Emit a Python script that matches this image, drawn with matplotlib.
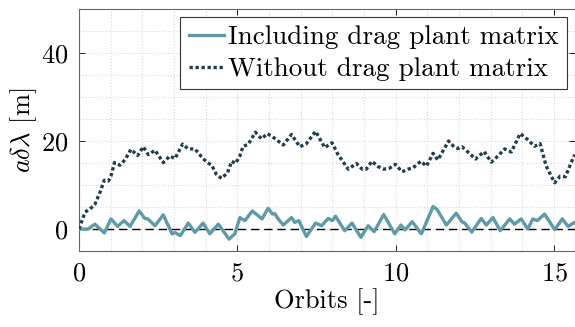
import numpy as np
import matplotlib
matplotlib.use('Agg')
import matplotlib.pyplot as plt
from matplotlib.ticker import MultipleLocator

plt.rcParams['font.family'] = 'serif'
plt.rcParams['font.serif'] = ['cmr10']
plt.rcParams['mathtext.fontset'] = 'cm'
plt.rcParams['axes.formatter.use_mathtext'] = True
plt.rcParams['axes.unicode_minus'] = False

# including drag plant matrix (orbit, value)
orb_inc = [0.0, 0.29, 0.5, 0.8, 1.01, 1.22, 1.42, 1.61, 1.9, 2.08, 2.17, 2.4, 2.66, 2.94, 3.03,
           3.2, 3.45, 3.66, 3.92, 4.13, 4.4, 4.74, 4.92, 5.08, 5.24, 5.47, 5.78, 5.97, 6.11,
           6.18, 6.29, 6.45, 6.71, 6.81, 6.94, 7.18, 7.47, 7.66, 7.87, 8.0, 8.1, 8.39, 8.62,
           8.9, 9.13, 9.32, 9.62, 9.97, 10.16, 10.3, 10.52, 10.81, 11.18, 11.3, 11.6, 11.91,
           12.09, 12.18, 12.4, 12.7, 12.86, 13.07, 13.3, 13.6, 13.75, 13.96, 14.17, 14.33,
           14.47, 14.7, 15.02, 15.26, 15.44, 15.65]
val_inc = [0.0, 0.0, 1.1, -0.9, 2.3, 0.6, 1.9, 0.6, 4.1, 2.4, 2.3, 0.75, 3.2, -1.1, -0.8,
           -1.5, 1.35, -0.75, 1.35, -1.1, 1.1, -2.3, -1.1, 2.6, 1.9, 4.1, 2.3, 4.7, 3.4,
           3.5, 2.3, 0.9, 2.6, 1.5, 1.9, -1.7, 1.35, 0.75, 2.4, 1.9, 2.9, -0.4, 1.35,
           -1.9, 0.75, -0.6, 3.3, -1.1, 0.9, -0.2, 1.65, -1.1, 5.1, 4.5, 0.9, 3.6,
           1.65, 1.35, -0.7, 2.4, 0.9, 2.6, -0.4, 2.3, 1.1, 2.3, 0.0, 2.3,
           1.9, 3.4, -0.15, 2.3, 0.6, 1.5]

# without drag plant matrix
orb_wo = [0.0, 0.19, 0.4, 0.5, 0.66, 0.8, 0.93, 1.01, 1.12, 1.29, 1.45, 1.64, 1.85, 2.03,
          2.19, 2.4, 2.66, 2.87, 3.03, 3.27, 3.45, 3.66, 3.87, 4.03, 4.19, 4.34, 4.5, 4.69,
          4.82, 4.94, 5.08, 5.18, 5.34, 5.57, 5.76, 5.95, 6.16, 6.45, 6.71, 6.97, 7.18,
          7.47, 7.76, 7.99, 8.18, 8.5, 8.76, 8.94, 9.07, 9.25, 9.44, 9.62, 9.8, 9.99,
          10.2, 10.39, 10.55, 10.79, 10.97, 11.18, 11.33, 11.67, 11.84, 11.97, 12.09,
          12.28, 12.52, 12.79, 13.02, 13.23, 13.44, 13.65, 13.93, 14.17, 14.38, 14.56,
          14.75, 15.02, 15.19, 15.36, 15.54, 15.65]
val_wo = [0.0, 3.8, 4.9, 5.6, 8.3, 11.1, 10.9, 12.1, 15.1, 14.5, 15.7, 18.1, 16.7, 18.7,
          16.9, 17.9, 15.1, 16.6, 16.0, 19.3, 18.2, 18.2, 16.4, 15.2, 14.5, 12.4, 11.5, 12.8,
          15.4, 14.9, 16.6, 18.8, 19.2, 22.0, 20.5, 21.7, 20.7, 19.1, 21.5, 18.7, 19.4,
          22.2, 18.5, 19.6, 16.9, 13.6, 14.9, 13.6, 13.6, 15.4, 14.2, 13.6, 13.8, 14.7,
          13.0, 13.6, 13.9, 15.4, 14.3, 17.2, 15.7, 20.0, 18.7, 18.3, 18.7,
          17.5, 15.9, 17.6, 15.2, 16.6, 18.2, 17.5, 21.7, 20.3, 18.8, 19.4,
          14.3, 10.5, 12.0, 11.9, 15.1, 16.9]

fig = plt.figure(figsize=(5.75, 3.27), dpi=100)
ax = fig.add_axes([0.1374, 0.2324, 0.862, 0.740])

ax.axhline(0, color='k', lw=1.0, ls=(0, (6, 3.5)), zorder=2)
ax.plot(orb_inc, val_inc, color='#5f9aa7', lw=2.4, label='Including drag plant matrix', zorder=3)
ax.plot(orb_wo, val_wo, color='#213f4a', lw=2.4, ls=(0, (1, 0.8)), label='Without drag plant matrix', zorder=3)

ax.set_xlim(0, 15.65)
ax.set_ylim(-5, 50)
ax.xaxis.set_major_locator(MultipleLocator(5))
ax.xaxis.set_minor_locator(MultipleLocator(1))
ax.yaxis.set_major_locator(MultipleLocator(20))
ax.yaxis.set_minor_locator(MultipleLocator(5))
ax.grid(which='both', color='#d8d8d8', ls=':', lw=0.8)
ax.tick_params(which='major', direction='in', top=True, right=True, length=4, width=0.6,
               labelsize=19, pad=8)
ax.tick_params(which='minor', length=0)
for s in ax.spines.values():
    s.set_color('#666666')
    s.set_linewidth(0.8)

ax.set_xlabel('Orbits [-]', fontsize=19, labelpad=2)
ax.set_ylabel(r'$a\delta\lambda$ [m]', fontsize=19, labelpad=1)

leg = ax.legend(loc='upper right', fontsize=19.5, fancybox=False, framealpha=1,
                edgecolor='#333333', handlelength=1.3, handletextpad=0.15,
                borderpad=0.3, labelspacing=0.3, borderaxespad=0.3)
leg.get_frame().set_linewidth(0.8)

fig.savefig('out.png', dpi=100)
